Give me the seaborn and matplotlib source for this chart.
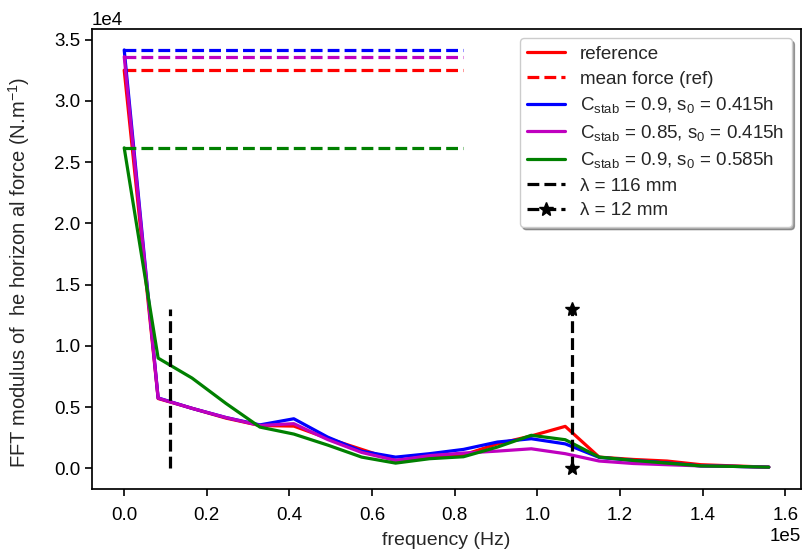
import numpy as np
import pandas as pd
import seaborn as sns
import matplotlib
matplotlib.use("Agg")
import matplotlib.pyplot as plt

# =========================================================
# DATA
# =========================================================
freq = [0, 8210, 16420, 24630, 32840, 41050, 49260, 57470, 65680, 73890,
        82100, 90310, 98520, 106730, 114940, 123150, 131360, 139570, 147780, 155990]

fft_ref = [32500, 5700, 4900, 4100, 3500, 3450, 2450, 1550, 650, 900,
           1100, 2000, 2650, 3430, 920, 730, 600, 300, 200, 100]
fft_c09_s415 = [34150, 5750, 4900, 4150, 3550, 4050, 2550, 1400, 920, 1200,
                1550, 2150, 2420, 2000, 900, 650, 450, 200, 160, 100]
fft_c085_s415 = [33600, 5730, 4900, 4150, 3500, 3650, 2350, 1300, 650, 1040,
                 1250, 1410, 1600, 1200, 600, 400, 300, 200, 160, 100]
fft_c09_s585 = [26160, 9000, 7370, 5300, 3370, 2800, 1900, 920, 430, 790,
                950, 1740, 2700, 2340, 920, 650, 430, 200, 160, 100]

mean_force = [32500, 34150, 33600, 26160]
mean_end = 82100

series_labels = ['reference',
                 r'C$_{\mathrm{stab}}$ = 0.9, s$_0$ = 0.415h',
                 r'C$_{\mathrm{stab}}$ = 0.85, s$_0$ = 0.415h',
                 r'C$_{\mathrm{stab}}$ = 0.9, s$_0$ = 0.585h']
series_colors = ['red', 'blue', 'm', 'green']

lambda_freqs = [11200, 108300]
lambda_labels = ['λ = 116 mm', 'λ = 12 mm']
lambda_top = 13000

# =========================================================
# PLOT
# =========================================================
sns.set_style("ticks")
plt.rcParams['font.family'] = ['Liberation Sans', 'DejaVu Sans']
plt.rcParams['mathtext.fontset'] = 'custom'
plt.rcParams['mathtext.rm'] = 'Liberation Sans'
plt.rcParams['mathtext.it'] = 'Liberation Sans:italic'
plt.rcParams['axes.linewidth'] = 1.25
plt.rcParams['axes.edgecolor'] = 'black'
plt.rcParams['xtick.color'] = 'black'
plt.rcParams['ytick.color'] = 'black'
plt.rcParams['xtick.major.size'] = 4.8
plt.rcParams['ytick.major.size'] = 4.8
plt.rcParams['xtick.major.width'] = 1.2
plt.rcParams['ytick.major.width'] = 1.2

fig, ax = plt.subplots(figsize=(8.04, 5.58), dpi=100)
fig.subplots_adjust(left=0.1144, right=0.9963, bottom=0.1231, top=0.948)

all_series = [fft_ref, fft_c09_s415, fft_c085_s415, fft_c09_s585]
lw = 2.3
for i, (vals, lab, col) in enumerate(zip(all_series, series_labels, series_colors)):
    df = pd.DataFrame({'freq': freq, 'fft': vals})
    sns.lineplot(data=df, x='freq', y='fft', color=col, lw=lw, label=lab, ax=ax)
    mlab = 'mean force (ref)' if i == 0 else None
    ax.plot([freq[0], mean_end], [mean_force[i], mean_force[i]], '--',
            color=col, lw=lw, label=mlab)

ax.plot([lambda_freqs[0], lambda_freqs[0]], [0, lambda_top], '--', color='black',
        lw=lw, label=lambda_labels[0])
ax.plot([lambda_freqs[1], lambda_freqs[1]], [0, lambda_top], '--', color='black',
        lw=lw, marker='*', markersize=10, label=lambda_labels[1])

ax.ticklabel_format(style='sci', axis='both', scilimits=(0, 0))
ax.tick_params(labelsize=13.5)
ax.tick_params(axis='x', pad=8)
ax.xaxis.get_offset_text().set_fontsize(13.5)
ax.yaxis.get_offset_text().set_fontsize(13.5)
ax.set_xticks([0, 20000, 40000, 60000, 80000, 100000, 120000, 140000, 160000])
ax.set_yticks([0, 5000, 10000, 15000, 20000, 25000, 30000, 35000])

ax.set_xlabel('frequency (Hz)', fontsize=14, labelpad=6)
ax.set_ylabel('FFT modulus of  he horizon al force (N.m$^{-1}$)', fontsize=14.5)
ax.yaxis.set_label_coords(-0.085, 0.47)

# reorder legend: reference, mean force, three cases, lambda lines
handles, labels = ax.get_legend_handles_labels()
order = ['reference', 'mean force (ref)'] + series_labels[1:] + lambda_labels
hmap = dict(zip(labels, handles))
ax.legend([hmap[o] for o in order], order, loc='upper right', fontsize=13.5,
          shadow=True, fancybox=True, framealpha=1, edgecolor='0.8',
          labelspacing=0.4)

plt.savefig("out.png", dpi=100)
plt.close()
